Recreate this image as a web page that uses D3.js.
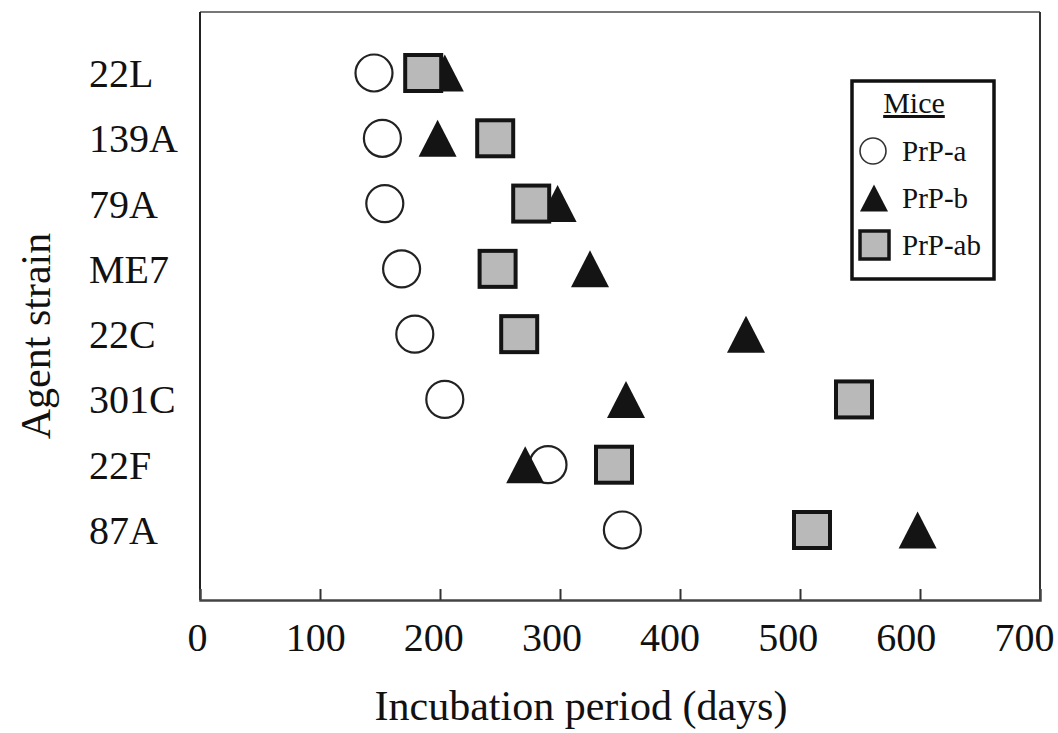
<!DOCTYPE html>
<html>
<head>
<meta charset="utf-8">
<script src="https://cdn.jsdelivr.net/npm/d3@7"></script>
<style>
  body { margin: 0; background: #fff; }
  text { font-family: "Liberation Serif", "Times New Roman", serif; fill: #111; }
</style>
</head>
<body>
<script>
// incubation period (days) per agent strain
var strains = ["22L", "139A", "79A", "ME7", "22C", "301C", "22F", "87A"];
var prpA  = [145, 152, 154, 168, 179, 204, 290, 352];
var prpB  = [204, 198, 298, 325, 455, 355, 271, 598];
var prpAB = [186, 246, 276, 248, 266, 545, 345, 510];
var xTicks = [0, 100, 200, 300, 400, 500, 600, 700];
var legendLabels = ["PrP-a", "PrP-b", "PrP-ab"];

var width = 1058, height = 733;
var plotLeft = 200, plotRight = 1040, plotTop = 12, plotBottom = 600;

var svg = d3.select("body")
    .append("svg")
    .attr("width", width)
    .attr("height", height);

var x = d3.scaleLinear()
    .domain([0, 700])
    .range([plotLeft, plotRight]);

// the printed tick labels sit a little left of their ticks, more so to the right
var xLabel = d3.scaleLinear()
    .domain([0, 700])
    .range([plotLeft - 3, plotRight - 16]);

var y = d3.scalePoint()
    .domain(strains)
    .range([plotTop + 61, plotBottom - 70]);

// frame
svg.append("line")
    .attr("x1", plotLeft).attr("x2", plotRight)
    .attr("y1", plotTop).attr("y2", plotTop)
    .attr("stroke", "#777").attr("stroke-width", 2);
svg.append("line")
    .attr("x1", plotRight).attr("x2", plotRight)
    .attr("y1", plotTop).attr("y2", plotBottom)
    .attr("stroke", "#333").attr("stroke-width", 2);
svg.append("line")
    .attr("x1", plotLeft).attr("x2", plotLeft)
    .attr("y1", plotTop).attr("y2", plotBottom)
    .attr("stroke", "#222").attr("stroke-width", 2);

// x axis, ticks pointing up into the plot
var xAxis = d3.axisBottom(x)
    .tickValues(xTicks)
    .tickSize(-11)
    .tickPadding(23)
    .tickFormat(d3.format("d"));

var gx = svg.append("g")
    .attr("transform", "translate(0," + plotBottom + ")")
    .call(xAxis);
gx.select(".domain").attr("stroke", "#444").attr("stroke-width", 2.5);
gx.selectAll(".tick line")
    .attr("stroke", "#333")
    .attr("stroke-width", 2)
    .attr("display", function (d) { return (d === 0 || d === 700) ? "none" : null; });
gx.selectAll(".tick text")
    .attr("font-size", 40)
    .attr("font-family", "Liberation Serif, serif")
    .attr("fill", "#111")
    .attr("x", function (d) { return xLabel(d) - x(d); })
    .attr("dy", "0.71em");

// y labels
svg.append("g")
    .selectAll("text")
    .data(strains)
    .enter()
    .append("text")
    .attr("x", 89)
    .attr("y", function (d) { return y(d) + 14; })
    .attr("font-size", 40)
    .text(function (d) { return d; });

// axis titles
svg.append("text")
    .attr("x", 581)
    .attr("y", 720)
    .attr("text-anchor", "middle")
    .attr("font-size", 42)
    .text("Incubation period (days)");

svg.append("text")
    .attr("transform", "translate(50,336) rotate(-90)")
    .attr("text-anchor", "middle")
    .attr("font-size", 42)
    .text("Agent strain");

function triangle(cx, cy, w, h) {
    return "M" + (cx - w / 2) + "," + (cy + h / 2) +
        "L" + cx + "," + (cy - h / 2) +
        "L" + (cx + w / 2) + "," + (cy + h / 2) + "Z";
}

// circles first, then triangles, then squares on top
svg.append("g")
    .selectAll("circle")
    .data(prpA)
    .enter()
    .append("circle")
    .attr("cx", function (d) { return x(d); })
    .attr("cy", function (d, i) { return y(strains[i]); })
    .attr("r", 18.5)
    .attr("fill", "white")
    .attr("stroke", "#222")
    .attr("stroke-width", 2.2);

svg.append("g")
    .selectAll("path")
    .data(prpB)
    .enter()
    .append("path")
    .attr("d", function (d, i) { return triangle(x(d), y(strains[i]), 38, 37); })
    .attr("fill", "#141414");

svg.append("g")
    .selectAll("rect")
    .data(prpAB)
    .enter()
    .append("rect")
    .attr("x", function (d) { return x(d) - 18; })
    .attr("y", function (d, i) { return y(strains[i]) - 18; })
    .attr("width", 36)
    .attr("height", 36)
    .attr("fill", "#b9b9b9")
    .attr("stroke", "#141414")
    .attr("stroke-width", 4);

// legend
var lg = svg.append("g");
lg.append("rect")
    .attr("x", 852).attr("y", 81)
    .attr("width", 142).attr("height", 198)
    .attr("fill", "white")
    .attr("stroke", "#111")
    .attr("stroke-width", 3.5);

lg.append("text")
    .attr("x", 914).attr("y", 113)
    .attr("text-anchor", "middle")
    .attr("font-size", 30)
    .attr("text-decoration", "underline")
    .text("Mice");

var legendY = [151, 198, 245];
lg.append("circle")
    .attr("cx", 873).attr("cy", legendY[0]).attr("r", 13)
    .attr("fill", "white").attr("stroke", "#333").attr("stroke-width", 1.6);
lg.append("path")
    .attr("d", triangle(874, legendY[1], 28, 27))
    .attr("fill", "#141414");
lg.append("rect")
    .attr("x", 860).attr("y", legendY[2] - 14)
    .attr("width", 29).attr("height", 28)
    .attr("fill", "#b9b9b9").attr("stroke", "#141414").attr("stroke-width", 3.5);

lg.selectAll("text.item")
    .data(legendLabels)
    .enter()
    .append("text")
    .attr("class", "item")
    .attr("x", 902)
    .attr("y", function (d, i) { return legendY[i] + 10; })
    .attr("font-size", 29)
    .text(function (d) { return d; });
</script>
</body>
</html>
